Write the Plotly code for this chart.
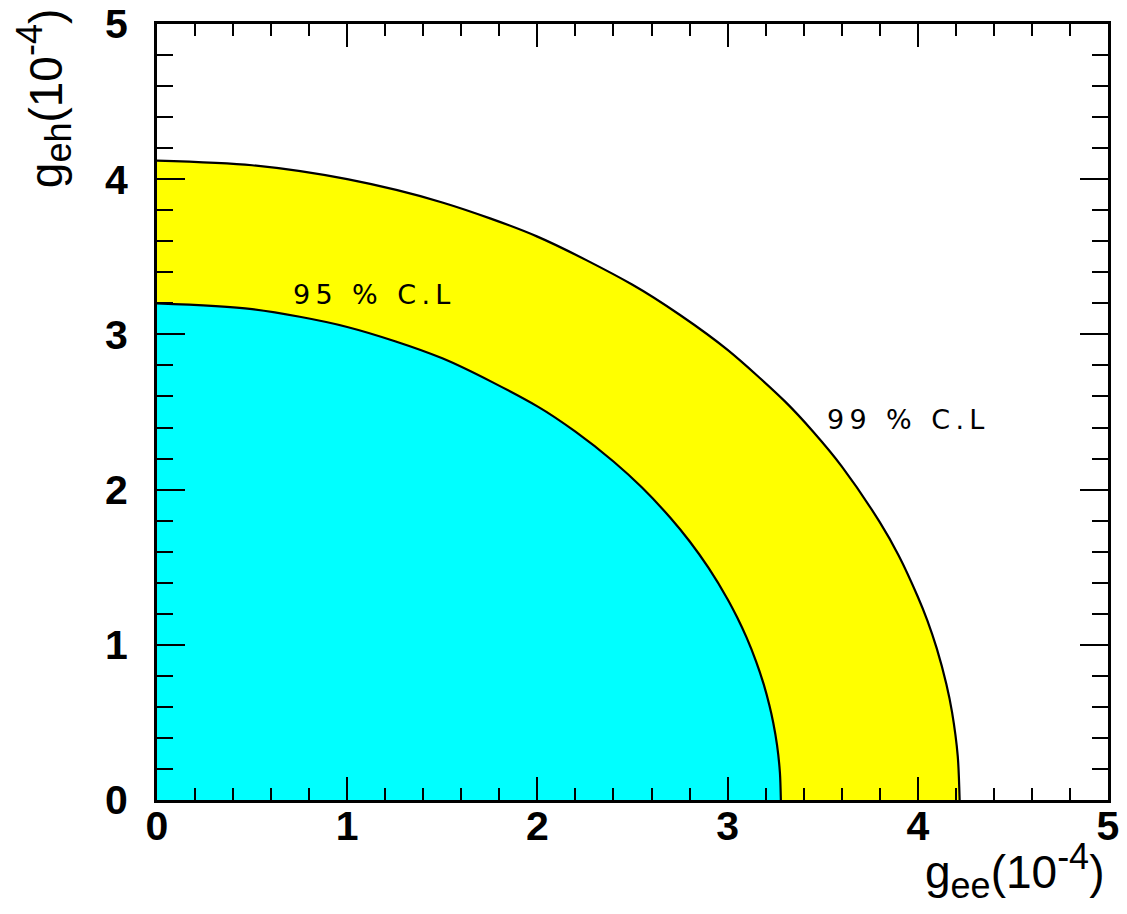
import plotly.graph_objects as go

# Contour boundaries (g_ee, g_eh in units of 1e-4)
cl99_x = [0.0, 0.5, 1.0, 1.5, 2.0, 2.5, 2.75, 3.0, 3.3, 3.45, 3.6, 3.8, 3.9, 4.0, 4.05, 4.1, 4.15, 4.18, 4.21, 4.22]
cl99_y = [4.12, 4.09, 4.00, 3.85, 3.63, 3.32, 3.125, 2.90, 2.57, 2.373, 2.15, 1.79, 1.574, 1.31, 1.158, 0.975, 0.747, 0.566, 0.283, 0.0]

cl95_x = [0.0, 0.5, 1.0, 1.5, 2.0, 2.2, 2.4, 2.55, 2.7, 2.8, 2.9, 3.0, 3.05, 3.1, 3.15, 3.19, 3.22, 3.24, 3.26, 3.275, 3.28]
cl95_y = [3.20, 3.163, 3.048, 2.846, 2.536, 2.373, 2.181, 2.013, 1.817, 1.667, 1.495, 1.294, 1.177, 1.046, 0.892, 0.745, 0.609, 0.498, 0.353, 0.177, 0.0]

labels = ["95 % C.L", "99 % C.L"]
label_x = [1.126, 3.937]
label_y = [3.258, 2.449]

fig = go.Figure()
fig.add_trace(go.Scatter(x=cl99_x, y=cl99_y, mode="lines", fill="tozeroy",
                         fillcolor="#FFFF00", line=dict(color="black", width=2.2, shape="spline", smoothing=0.8),
                         hoverinfo="skip"))
fig.add_trace(go.Scatter(x=cl95_x, y=cl95_y, mode="lines", fill="tozeroy",
                         fillcolor="#00FFFF", line=dict(color="black", width=2.2, shape="spline", smoothing=0.8),
                         hoverinfo="skip"))

tickfont = dict(family="Liberation Sans", size=41, color="black")
common = dict(range=[0, 5], dtick=1, tick0=0, showgrid=False, zeroline=False,
              showline=True, linecolor="black", linewidth=3, mirror="ticks",
              ticks="inside", tickcolor="black", tickwidth=2, automargin=False,
              tickfont=tickfont, fixedrange=True,
              tickprefix="<b>", ticksuffix="</b>")
fig.update_xaxes(**common, ticklen=23, ticklabelstandoff=-12,
                 minor=dict(dtick=0.2, ticks="inside", ticklen=12, tickcolor="black", tickwidth=2))
fig.update_yaxes(**common, ticklen=28, ticklabelstandoff=18,
                 minor=dict(dtick=0.2, ticks="inside", ticklen=16, tickcolor="black", tickwidth=2))

fig.update_layout(
    width=1127, height=914,
    margin=dict(l=157, r=19, t=24, b=114, autoexpand=False),
    paper_bgcolor="white", plot_bgcolor="white",
    showlegend=False,
    font=dict(family="Liberation Sans", color="black"),
)

ts = "\u2009"
for t, x, y in zip(labels, label_x, label_y):
    spaced = ts.join(list(t))
    fig.add_annotation(x=x, y=y, xref="x", yref="y", text=spaced, showarrow=False,
                       font=dict(family="DejaVu Sans", size=27, color="black"))

sub = '<span style="font-size:36px">%s</span>'
fig.add_annotation(x=0.998, y=-0.139, xref="paper", yref="paper",
                   xanchor="right", yanchor="bottom", showarrow=False,
                   text="g<sub>" + sub % "ee" + "</sub>(10<sup>" + sub % "-4" + "</sup>)",
                   font=dict(family="Liberation Sans", size=46, color="black"))
fig.add_annotation(x=-0.118, y=1.022, xref="paper", yref="paper",
                   xanchor="center", yanchor="top", showarrow=False, textangle=-90,
                   text="g<sub>" + sub % "eh" + "</sub>(10<sup>" + sub % "-4" + "</sup>)",
                   font=dict(family="Liberation Sans", size=46, color="black"))

fig.write_html("out.html", config={"displayModeBar": False},
               post_script="document.body.style.margin='0';document.body.style.overflow='hidden';")
